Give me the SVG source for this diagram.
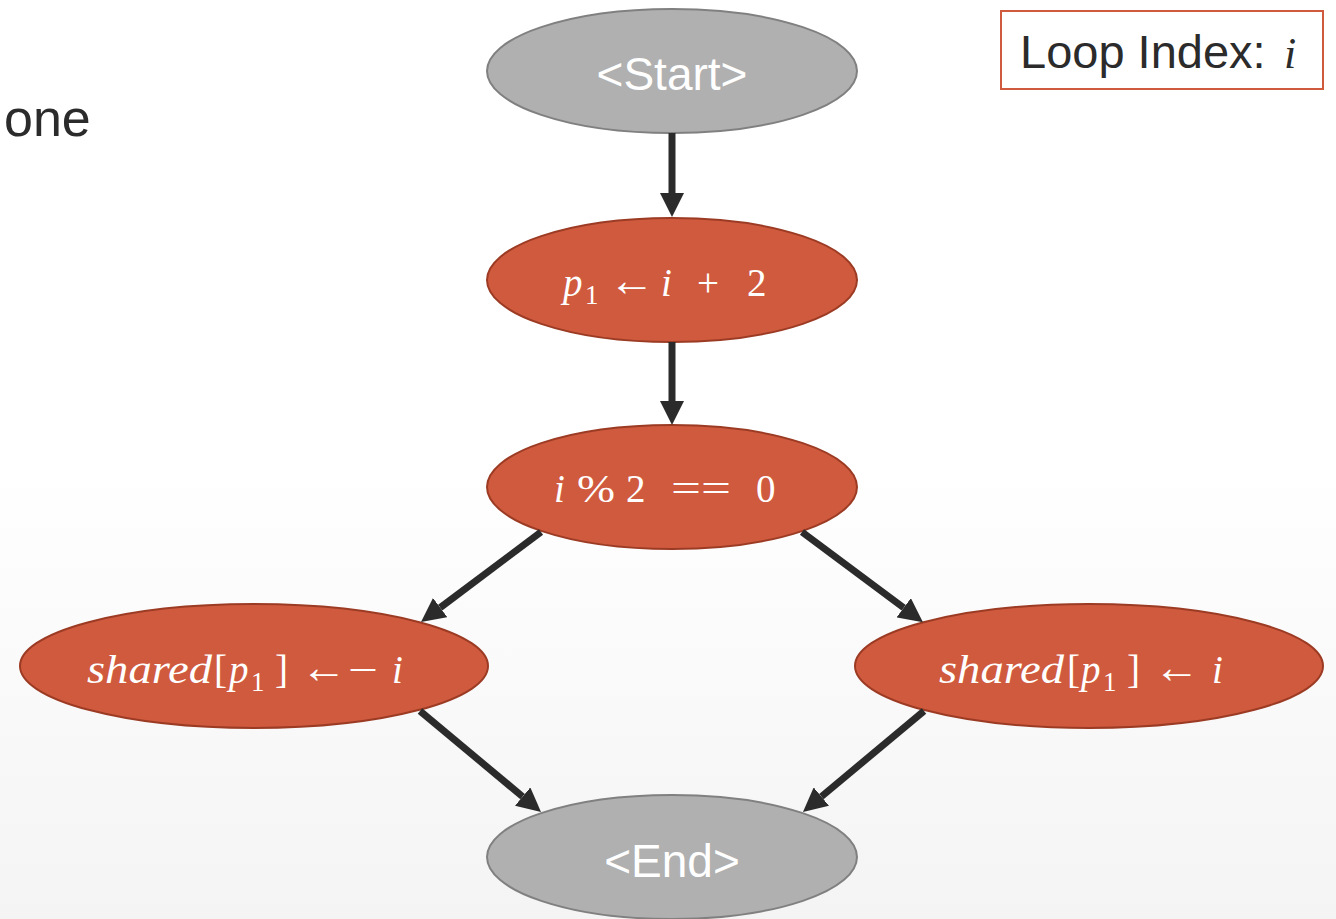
<svg xmlns="http://www.w3.org/2000/svg" width="1336" height="919" viewBox="0 0 1336 919">
  <defs>
    <linearGradient id="bg" x1="0" y1="0" x2="0" y2="1">
      <stop offset="0" stop-color="#ffffff"/>
      <stop offset="0.5" stop-color="#ffffff"/>
      <stop offset="1" stop-color="#f4f4f4"/>
    </linearGradient>
    <marker id="arrow" viewBox="0 0 24 24" refX="0" refY="12" markerWidth="24" markerHeight="24" markerUnits="userSpaceOnUse" orient="auto">
      <path d="M0,0 L24,12 L0,24 Z" fill="#2b2b2b"/>
    </marker>
    <style>
      .term { fill: #b0b0b0; stroke: #808080; stroke-width: 2; }
      .op { fill: #d05a3e; stroke: #9c3b24; stroke-width: 2; }
      .termtxt { font-family: "Liberation Sans", Arial, sans-serif; font-size: 46px; fill: #ffffff; text-anchor: middle; }
      .math { font-family: "Liberation Serif", "DejaVu Serif", serif; font-size: 39px; fill: #ffffff; }
      .it { font-style: italic; }
      .sub { font-size: 27px; }
      .arr { font-size: 46px; }
      .edge { stroke: #2b2b2b; stroke-width: 7; fill: none; marker-end: url(#arrow); }
      .plain { font-family: "Liberation Sans", Arial, sans-serif; fill: #2b2b2b; }
    </style>
  </defs>

  <rect x="0" y="0" width="1336" height="919" fill="url(#bg)"/>

  <!-- left-margin caption fragment -->
  <text class="plain" x="4" y="136" font-size="52">one</text>

  <!-- loop index legend -->
  <g id="legend">
    <rect x="1001" y="11" width="322" height="78" fill="#ffffff" stroke="#d05a3e" stroke-width="2"/>
    <text class="plain" x="1020" y="68" font-size="47">Loop Index: </text>
    <text x="1284" y="68" font-family="Liberation Serif, DejaVu Serif, serif" font-style="italic" font-size="44" fill="#2b2b2b">i</text>
  </g>

  <!-- nodes -->
  <g id="start">
    <ellipse class="term" cx="672" cy="71" rx="185" ry="62"/>
    <text class="termtxt" x="672" y="90">&lt;Start&gt;</text>
  </g>

  <g id="assign-p1">
    <ellipse class="op" cx="672" cy="280" rx="185" ry="62"/>
    <text class="math" y="296">
      <tspan class="it" x="563">p</tspan><tspan class="sub" x="585" y="304">1</tspan><tspan class="arr" x="609" y="296">←</tspan><tspan class="it" x="661">i</tspan><tspan x="697">+</tspan><tspan x="747">2</tspan>
    </text>
  </g>

  <g id="branch">
    <ellipse class="op" cx="672" cy="487" rx="185" ry="62"/>
    <text class="math" y="502">
      <tspan class="it" x="554">i</tspan><tspan x="577" textLength="38" lengthAdjust="spacingAndGlyphs">%</tspan><tspan x="626">2</tspan><tspan x="671" textLength="60" lengthAdjust="spacingAndGlyphs">==</tspan><tspan x="756">0</tspan>
    </text>
  </g>

  <g id="store-neg">
    <ellipse class="op" cx="254" cy="666" rx="234" ry="62"/>
    <text class="math" y="683">
      <tspan class="it" x="87" textLength="125" lengthAdjust="spacingAndGlyphs">shared</tspan><tspan x="214">[</tspan><tspan class="it" x="229">p</tspan><tspan class="sub" x="251" y="691">1</tspan><tspan x="275" y="683">]</tspan><tspan class="arr" x="301">←</tspan><tspan x="348" textLength="30" lengthAdjust="spacingAndGlyphs">−</tspan><tspan class="it" x="392">i</tspan>
    </text>
  </g>

  <g id="store-pos">
    <ellipse class="op" cx="1089" cy="666" rx="234" ry="62"/>
    <text class="math" y="683">
      <tspan class="it" x="939" textLength="125" lengthAdjust="spacingAndGlyphs">shared</tspan><tspan x="1067">[</tspan><tspan class="it" x="1081">p</tspan><tspan class="sub" x="1103" y="691">1</tspan><tspan x="1127" y="683">]</tspan><tspan class="arr" x="1154">←</tspan><tspan class="it" x="1212">i</tspan>
    </text>
  </g>

  <g id="end">
    <ellipse class="term" cx="672" cy="857" rx="185" ry="62"/>
    <text class="termtxt" x="672" y="877">&lt;End&gt;</text>
  </g>

  <!-- connectors: each line stops one arrowhead-length short of its tip -->
  <g id="connectors">
    <line class="edge" x1="672" y1="133" x2="672" y2="193"/>
    <line class="edge" x1="672" y1="342" x2="672" y2="401"/>
    <line class="edge" x1="541" y1="532" x2="440.2" y2="607.6"/>
    <line class="edge" x1="802" y1="532" x2="903.7" y2="607.8"/>
    <line class="edge" x1="420" y1="711" x2="522.6" y2="796.6"/>
    <line class="edge" x1="924" y1="711" x2="821.4" y2="796.6"/>
  </g>
</svg>
